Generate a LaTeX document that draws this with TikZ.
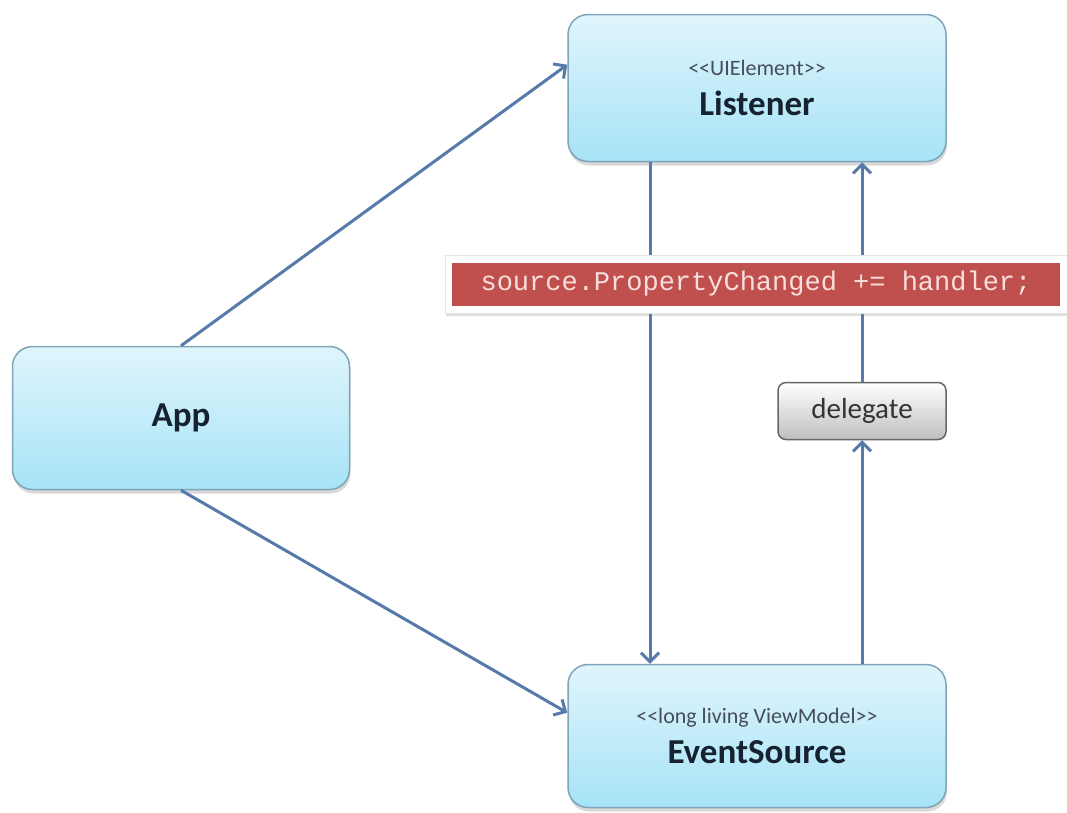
\documentclass[tikz,border=0pt]{standalone}
\usepackage{fontspec}
\setmainfont{Carlito}
\setmonofont{Liberation Mono}
\usetikzlibrary{positioning, arrows.meta, shadows}

\definecolor{boxtop}{RGB}{224,245,252}
\definecolor{boxbottom}{RGB}{166,227,247}
\definecolor{boxline}{RGB}{128,164,184}
\definecolor{flowline}{RGB}{86,122,170}
\definecolor{codered}{RGB}{192,80,77}
\definecolor{codetext}{RGB}{248,222,220}
\definecolor{darktext}{RGB}{22,34,48}

\newcommand{\stereotype}[1]{{\fontsize{22}{24}\selectfont\mdseries\color{darktext!80}<{}<#1>{}>}}

\begin{document}
\begin{tikzpicture}[
    x=1pt, y=-1pt,
    font=\fontsize{35}{38}\selectfont,
    classbox/.style={rectangle, draw=boxline, line width=1.5pt, rounded corners=20pt, top color=boxtop, bottom color=boxbottom, text=darktext, align=center, font=\fontsize{35}{38}\selectfont\bfseries, drop shadow={shadow xshift=1pt, shadow yshift=-4pt, opacity=0.3}},
    flow/.style={draw=flowline, line width=3pt, -{Straight Barb[length=9pt, width=18pt, line width=3pt]}},
    codeframe/.style={rectangle, fill=white, draw=black!10, minimum width=622pt, minimum height=58pt, drop shadow={shadow xshift=1pt, shadow yshift=-3pt, opacity=0.25}},
    codebar/.style={rectangle, fill=codered, text=codetext, minimum width=608pt, minimum height=43pt, font=\ttfamily\fontsize{27}{30}\selectfont},
    tagbox/.style={rectangle, draw=black!60, line width=1.5pt, rounded corners=8pt, top color=white, bottom color=black!25, minimum width=168pt, minimum height=57pt, font=\fontsize{29}{32}\selectfont, text=black!80}
]
\useasboundingbox (0,0) rectangle (1067,812);

% 1. Classes
\node[classbox, minimum width=378pt, minimum height=147pt] (listener) at (757,88) {\stereotype{UIElement}\\[2pt]Listener};
\node[classbox, minimum width=337pt, minimum height=143pt] (app) at (181,418) {App};
\node[classbox, minimum width=378pt, minimum height=143pt] (eventsource) at (757,736) {\stereotype{long living ViewModel}\\[2pt]EventSource};

% 2. Delegate
\node[tagbox] (delegate) at (862,411) {delegate};

% Paths
\draw[flow] (app.north) -- (listener.173);
\draw[flow] (app.south) -- (eventsource.173);
\draw[flow] ([xshift=-107pt]listener.south) -- ([xshift=-107pt]eventsource.north);
\draw[flow] (eventsource.north -| delegate) -- (delegate.south);
\draw[flow] (delegate.north) -- (delegate |- listener.south);

% 3. Subscription code (over the arrows)
\node[codeframe] (frame) at (756,284) {};
\node[codebar] (code) at (frame) {source.PropertyChanged += handler;};

\end{tikzpicture}
\end{document}
